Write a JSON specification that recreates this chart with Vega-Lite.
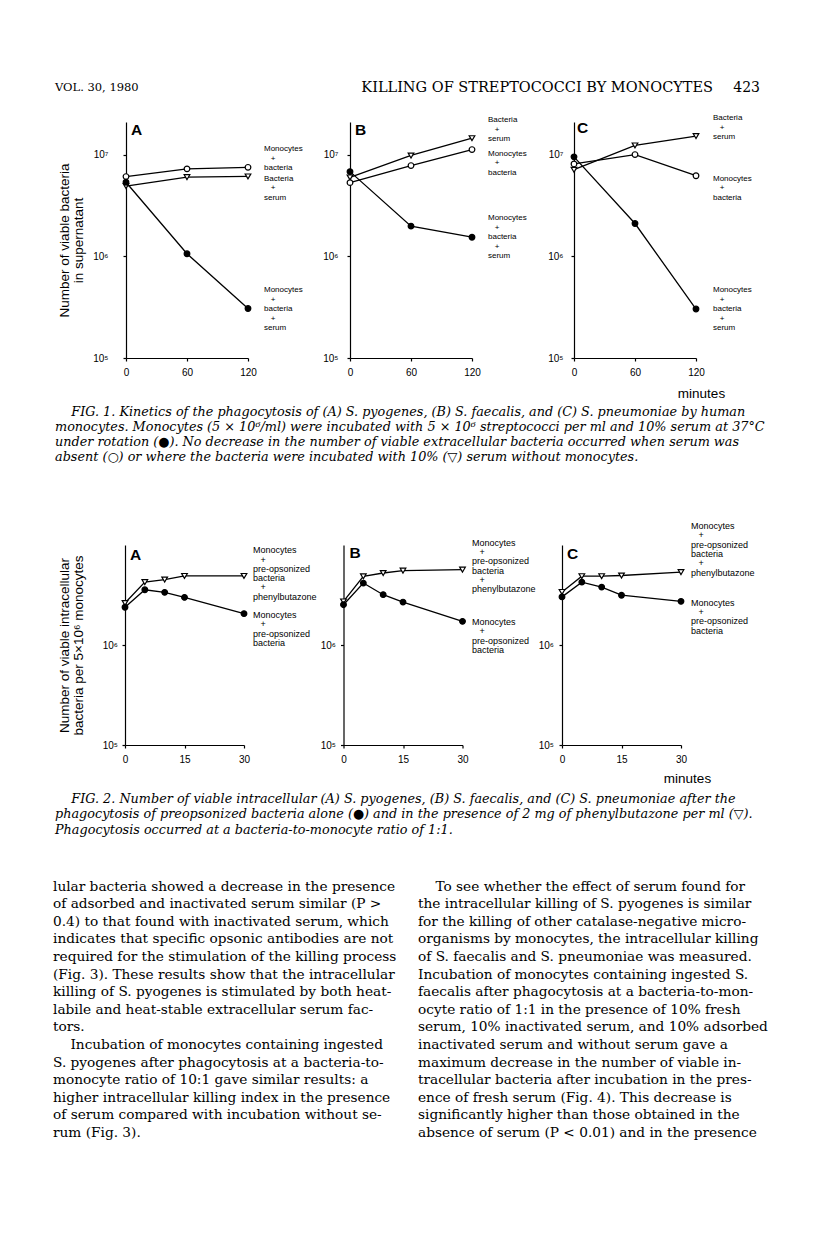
{
  "$schema": "https://vega.github.io/schema/vega-lite/v6.json",
  "background": "white",
  "padding": {"left": 53, "top": 80, "right": 10, "bottom": 10},
  "bounds": "full",
  "spacing": 0,
  "datasets": {
    "header": [
      {"col": 0, "part": "left", "text": "VOL. 30, 1980"},
      {"col": 1, "part": "title", "text": "KILLING OF STREPTOCOCCI BY MONOCYTES"},
      {"col": 1, "part": "page", "text": "423"}
    ],
    "fig1": [
      {"panel": "A", "series": "Monocytes + bacteria", "t": 0, "v": 6080000},
      {"panel": "A", "series": "Monocytes + bacteria", "t": 60, "v": 7240000},
      {"panel": "A", "series": "Monocytes + bacteria", "t": 120, "v": 7500000},
      {"panel": "A", "series": "Bacteria + serum", "t": 0, "v": 4900000},
      {"panel": "A", "series": "Bacteria + serum", "t": 60, "v": 6000000},
      {"panel": "A", "series": "Bacteria + serum", "t": 120, "v": 6100000},
      {"panel": "A", "series": "Monocytes + bacteria + serum", "t": 0, "v": 5350000},
      {"panel": "A", "series": "Monocytes + bacteria + serum", "t": 60, "v": 1060000},
      {"panel": "A", "series": "Monocytes + bacteria + serum", "t": 120, "v": 307000},
      {"panel": "B", "series": "Bacteria + serum", "t": 0, "v": 5960000},
      {"panel": "B", "series": "Bacteria + serum", "t": 60, "v": 9800000},
      {"panel": "B", "series": "Bacteria + serum", "t": 120, "v": 14500000},
      {"panel": "B", "series": "Monocytes + bacteria", "t": 0, "v": 5300000},
      {"panel": "B", "series": "Monocytes + bacteria", "t": 60, "v": 7800000},
      {"panel": "B", "series": "Monocytes + bacteria", "t": 120, "v": 11200000},
      {"panel": "B", "series": "Monocytes + bacteria + serum", "t": 0, "v": 6800000},
      {"panel": "B", "series": "Monocytes + bacteria + serum", "t": 60, "v": 1980000},
      {"panel": "B", "series": "Monocytes + bacteria + serum", "t": 120, "v": 1540000},
      {"panel": "C", "series": "Bacteria + serum", "t": 0, "v": 7100000},
      {"panel": "C", "series": "Bacteria + serum", "t": 60, "v": 12300000},
      {"panel": "C", "series": "Bacteria + serum", "t": 120, "v": 15200000},
      {"panel": "C", "series": "Monocytes + bacteria", "t": 0, "v": 8100000},
      {"panel": "C", "series": "Monocytes + bacteria", "t": 60, "v": 10000000},
      {"panel": "C", "series": "Monocytes + bacteria", "t": 120, "v": 6200000},
      {"panel": "C", "series": "Monocytes + bacteria + serum", "t": 0, "v": 9500000},
      {"panel": "C", "series": "Monocytes + bacteria + serum", "t": 60, "v": 2100000},
      {"panel": "C", "series": "Monocytes + bacteria + serum", "t": 120, "v": 303000}
    ],
    "fig2": [
      {"panel": "A", "series": "Monocytes + pre-opsonized bacteria + phenylbutazone", "t": 0, "v": 2670000},
      {"panel": "A", "series": "Monocytes + pre-opsonized bacteria + phenylbutazone", "t": 5, "v": 4330000},
      {"panel": "A", "series": "Monocytes + pre-opsonized bacteria + phenylbutazone", "t": 10, "v": 4600000},
      {"panel": "A", "series": "Monocytes + pre-opsonized bacteria + phenylbutazone", "t": 15, "v": 5000000},
      {"panel": "A", "series": "Monocytes + pre-opsonized bacteria + phenylbutazone", "t": 30, "v": 5000000},
      {"panel": "A", "series": "Monocytes + pre-opsonized bacteria", "t": 0, "v": 2420000},
      {"panel": "A", "series": "Monocytes + pre-opsonized bacteria", "t": 5, "v": 3630000},
      {"panel": "A", "series": "Monocytes + pre-opsonized bacteria", "t": 10, "v": 3420000},
      {"panel": "A", "series": "Monocytes + pre-opsonized bacteria", "t": 15, "v": 3040000},
      {"panel": "A", "series": "Monocytes + pre-opsonized bacteria", "t": 30, "v": 2090000},
      {"panel": "B", "series": "Monocytes + pre-opsonized bacteria + phenylbutazone", "t": 0, "v": 2770000},
      {"panel": "B", "series": "Monocytes + pre-opsonized bacteria + phenylbutazone", "t": 5, "v": 4950000},
      {"panel": "B", "series": "Monocytes + pre-opsonized bacteria + phenylbutazone", "t": 10, "v": 5350000},
      {"panel": "B", "series": "Monocytes + pre-opsonized bacteria + phenylbutazone", "t": 15, "v": 5650000},
      {"panel": "B", "series": "Monocytes + pre-opsonized bacteria + phenylbutazone", "t": 30, "v": 5780000},
      {"panel": "B", "series": "Monocytes + pre-opsonized bacteria", "t": 0, "v": 2570000},
      {"panel": "B", "series": "Monocytes + pre-opsonized bacteria", "t": 5, "v": 4240000},
      {"panel": "B", "series": "Monocytes + pre-opsonized bacteria", "t": 10, "v": 3240000},
      {"panel": "B", "series": "Monocytes + pre-opsonized bacteria", "t": 15, "v": 2730000},
      {"panel": "B", "series": "Monocytes + pre-opsonized bacteria", "t": 30, "v": 1750000},
      {"panel": "C", "series": "Monocytes + pre-opsonized bacteria + phenylbutazone", "t": 0, "v": 3450000},
      {"panel": "C", "series": "Monocytes + pre-opsonized bacteria + phenylbutazone", "t": 5, "v": 4970000},
      {"panel": "C", "series": "Monocytes + pre-opsonized bacteria + phenylbutazone", "t": 10, "v": 4970000},
      {"panel": "C", "series": "Monocytes + pre-opsonized bacteria + phenylbutazone", "t": 15, "v": 5050000},
      {"panel": "C", "series": "Monocytes + pre-opsonized bacteria + phenylbutazone", "t": 30, "v": 5460000},
      {"panel": "C", "series": "Monocytes + pre-opsonized bacteria", "t": 0, "v": 3080000},
      {"panel": "C", "series": "Monocytes + pre-opsonized bacteria", "t": 5, "v": 4330000},
      {"panel": "C", "series": "Monocytes + pre-opsonized bacteria", "t": 10, "v": 3860000},
      {"panel": "C", "series": "Monocytes + pre-opsonized bacteria", "t": 15, "v": 3200000},
      {"panel": "C", "series": "Monocytes + pre-opsonized bacteria", "t": 30, "v": 2780000}
    ],
    "lab1": [
      {"panel": "A", "t": 120, "v": 12300000, "text": "Monocytes\n\u200b\u00a0\u00a0\u00a0+\nbacteria"},
      {"panel": "A", "t": 120, "v": 6370000, "text": "Bacteria\n\u200b\u00a0\u00a0\u00a0+\nserum"},
      {"panel": "A", "t": 120, "v": 505000, "text": "Monocytes\n\u200b\u00a0\u00a0\u00a0+\nbacteria\n\u200b\u00a0\u00a0\u00a0+\nserum"},
      {"panel": "B", "t": 120, "v": 23700000, "text": "Bacteria\n\u200b\u00a0\u00a0\u00a0+\nserum"},
      {"panel": "B", "t": 120, "v": 11200000, "text": "Monocytes\n\u200b\u00a0\u00a0\u00a0+\nbacteria"},
      {"panel": "B", "t": 120, "v": 2580000, "text": "Monocytes\n\u200b\u00a0\u00a0\u00a0+\nbacteria\n\u200b\u00a0\u00a0\u00a0+\nserum"},
      {"panel": "C", "t": 120, "v": 24800000, "text": "Bacteria\n\u200b\u00a0\u00a0\u00a0+\nserum"},
      {"panel": "C", "t": 120, "v": 6370000, "text": "Monocytes\n\u200b\u00a0\u00a0\u00a0+\nbacteria"},
      {"panel": "C", "t": 120, "v": 505000, "text": "Monocytes\n\u200b\u00a0\u00a0\u00a0+\nbacteria\n\u200b\u00a0\u00a0\u00a0+\nserum"}
    ],
    "lab2": [
      {"panel": "A", "t": 30, "v": 9930000, "text": "Monocytes\n\u200b\u00a0\u00a0\u00a0+\npre-opsonized\nbacteria\n\u200b\u00a0\u00a0\u00a0+\nphenylbutazone"},
      {"panel": "A", "t": 30, "v": 2220000, "text": "Monocytes\n\u200b\u00a0\u00a0\u00a0+\npre-opsonized\nbacteria"},
      {"panel": "B", "t": 30, "v": 11800000, "text": "Monocytes\n\u200b\u00a0\u00a0\u00a0+\npre-opsonized\nbacteria\n\u200b\u00a0\u00a0\u00a0+\nphenylbutazone"},
      {"panel": "B", "t": 30, "v": 1890000, "text": "Monocytes\n\u200b\u00a0\u00a0\u00a0+\npre-opsonized\nbacteria"},
      {"panel": "C", "t": 30, "v": 17400000, "text": "Monocytes\n\u200b\u00a0\u00a0\u00a0+\npre-opsonized\nbacteria\n\u200b\u00a0\u00a0\u00a0+\nphenylbutazone"},
      {"panel": "C", "t": 30, "v": 2950000, "text": "Monocytes\n\u200b\u00a0\u00a0\u00a0+\npre-opsonized\nbacteria"}
    ],
    "letters": [
      {"fig": 1, "panel": "A", "t": 0, "v": 20920000, "text": "A"},
      {"fig": 1, "panel": "B", "t": 0, "v": 20920000, "text": "B"},
      {"fig": 1, "panel": "C", "t": 0, "v": 20920000, "text": "C"},
      {"fig": 2, "panel": "A", "t": 0, "v": 10230000, "text": "A"},
      {"fig": 2, "panel": "B", "t": 0, "v": 10230000, "text": "B"},
      {"fig": 2, "panel": "C", "t": 0, "v": 10230000, "text": "C"}
    ],
    "cap1": [
      {"col": 0, "line": 1, "text": "\u200b\u00a0\u00a0\u00a0\u00a0FIG. 1. Kinetics of the phagocytosis of (A) S. pyogenes, (B) S. faecalis, and (C) S. pneumoniae by human"},
      {"col": 0, "line": 2, "text": "monocytes. Monocytes (5 × 10⁶/ml) were incubated with 5 × 10⁶ streptococci per ml and 10% serum at 37°C"},
      {"col": 0, "line": 3, "text": "under rotation (●). No decrease in the number of viable extracellular bacteria occurred when serum was"},
      {"col": 0, "line": 4, "text": "absent (○) or where the bacteria were incubated with 10% (▽) serum without monocytes."}
    ],
    "cap2": [
      {"col": 0, "line": 1, "text": "\u200b\u00a0\u00a0\u00a0\u00a0FIG. 2. Number of viable intracellular (A) S. pyogenes, (B) S. faecalis, and (C) S. pneumoniae after the"},
      {"col": 0, "line": 2, "text": "phagocytosis of preopsonized bacteria alone (●) and in the presence of 2 mg of phenylbutazone per ml (▽)."},
      {"col": 0, "line": 3, "text": "Phagocytosis occurred at a bacteria-to-monocyte ratio of 1:1."}
    ],
    "body": [
      {"col": 0, "line": 1, "text": "lular bacteria showed a decrease in the presence"},
      {"col": 0, "line": 2, "text": "of adsorbed and inactivated serum similar (P >"},
      {"col": 0, "line": 3, "text": "0.4) to that found with inactivated serum, which"},
      {"col": 0, "line": 4, "text": "indicates that specific opsonic antibodies are not"},
      {"col": 0, "line": 5, "text": "required for the stimulation of the killing process"},
      {"col": 0, "line": 6, "text": "(Fig. 3). These results show that the intracellular"},
      {"col": 0, "line": 7, "text": "killing of S. pyogenes is stimulated by both heat-"},
      {"col": 0, "line": 8, "text": "labile and heat-stable extracellular serum fac-"},
      {"col": 0, "line": 9, "text": "tors."},
      {"col": 0, "line": 10, "text": "\u200b\u00a0\u00a0\u00a0\u00a0Incubation of monocytes containing ingested"},
      {"col": 0, "line": 11, "text": "S. pyogenes after phagocytosis at a bacteria-to-"},
      {"col": 0, "line": 12, "text": "monocyte ratio of 10:1 gave similar results: a"},
      {"col": 0, "line": 13, "text": "higher intracellular killing index in the presence"},
      {"col": 0, "line": 14, "text": "of serum compared with incubation without se-"},
      {"col": 0, "line": 15, "text": "rum (Fig. 3)."},
      {"col": 1, "line": 1, "text": "\u200b\u00a0\u00a0\u00a0\u00a0To see whether the effect of serum found for"},
      {"col": 1, "line": 2, "text": "the intracellular killing of S. pyogenes is similar"},
      {"col": 1, "line": 3, "text": "for the killing of other catalase-negative micro-"},
      {"col": 1, "line": 4, "text": "organisms by monocytes, the intracellular killing"},
      {"col": 1, "line": 5, "text": "of S. faecalis and S. pneumoniae was measured."},
      {"col": 1, "line": 6, "text": "Incubation of monocytes containing ingested S."},
      {"col": 1, "line": 7, "text": "faecalis after phagocytosis at a bacteria-to-mon-"},
      {"col": 1, "line": 8, "text": "ocyte ratio of 1:1 in the presence of 10% fresh"},
      {"col": 1, "line": 9, "text": "serum, 10% inactivated serum, and 10% adsorbed"},
      {"col": 1, "line": 10, "text": "inactivated serum and without serum gave a"},
      {"col": 1, "line": 11, "text": "maximum decrease in the number of viable in-"},
      {"col": 1, "line": 12, "text": "tracellular bacteria after incubation in the pres-"},
      {"col": 1, "line": 13, "text": "ence of fresh serum (Fig. 4). This decrease is"},
      {"col": 1, "line": 14, "text": "significantly higher than those obtained in the"},
      {"col": 1, "line": 15, "text": "absence of serum (P < 0.01) and in the presence"}
    ]
  },
  "vconcat": [
    {
      "width": 707,
      "height": 33.4,
      "data": {"name": "header"},
      "encoding": {
        "x": {"field": "col", "type": "quantitative", "scale": {"domain": [0, 1], "nice": false, "zero": false}, "axis": null},
        "text": {"field": "text"}
      },
      "layer": [
        {"transform": [{"filter": "datum.part === 'left'"}], "mark": {"type": "text", "align": "left", "baseline": "middle", "dx": 2, "dy": -8.7, "font": "DejaVu Serif", "fontSize": 11.5}},
        {"transform": [{"filter": "datum.part === 'title'"}], "mark": {"type": "text", "align": "right", "baseline": "middle", "dx": -47, "dy": -8.7, "font": "DejaVu Serif", "fontSize": 14.5}},
        {"transform": [{"filter": "datum.part === 'page'"}], "mark": {"type": "text", "align": "right", "baseline": "middle", "dx": 0, "dy": -8.7, "font": "DejaVu Serif", "fontSize": 14}}
      ]
    },
    {
      "bounds": "flush",
      "spacing": 0,
      "hconcat": [
        {"width": 73, "height": 10, "data": {"values": []}, "mark": "text", "encoding": {}},
        {
          "bounds": "flush",
          "spacing": 102,
          "hconcat": [
            {
              "width": 122,
              "height": 236,
              "encoding": {
                "x": {"field": "t", "type": "quantitative", "scale": {"domain": [0, 120], "nice": false, "zero": false}, "axis": {"values": [0, 60, 120], "title": null}},
                "y": {"field": "v", "type": "quantitative", "scale": {"type": "log", "domain": [100000, 20920000], "nice": false}, "axis": {"values": [100000, 1000000, 10000000], "labelExpr": "datum.value > 5000000 ? '10⁷' : datum.value > 500000 ? '10⁶' : '10⁵'", "labelPadding": 15, "title": ["Number of viable bacteria", "in supernatant"], "titlePadding": 7}}
              },
              "layer": [
                {"data": {"name": "fig1"}, "transform": [{"filter": "datum.panel === 'A'"}], "mark": {"type": "line", "color": "black", "strokeWidth": 1.3}, "encoding": {"detail": {"field": "series"}}},
                {"data": {"name": "fig1"}, "transform": [{"filter": "datum.panel === 'A'"}], "mark": {"type": "point", "filled": true, "stroke": "black", "strokeWidth": 1.2, "size": 32, "opacity": 1},
                 "encoding": {
                   "shape": {"field": "series", "type": "nominal", "scale": {"domain": ["Monocytes + bacteria + serum", "Monocytes + bacteria", "Bacteria + serum", "Monocytes + pre-opsonized bacteria", "Monocytes + pre-opsonized bacteria + phenylbutazone"], "range": ["circle", "circle", "triangle-down", "circle", "triangle-down"]}, "legend": null},
                   "fill": {"field": "series", "type": "nominal", "scale": {"domain": ["Monocytes + bacteria + serum", "Monocytes + bacteria", "Bacteria + serum", "Monocytes + pre-opsonized bacteria", "Monocytes + pre-opsonized bacteria + phenylbutazone"], "range": ["black", "white", "white", "black", "white"]}, "legend": null}
                 }},
                {"data": {"name": "lab1"}, "transform": [{"filter": "datum.panel === 'A'"}], "mark": {"type": "text", "align": "left", "baseline": "top", "dx": 16, "font": "Liberation Sans", "fontSize": 8, "lineHeight": 9.5, "lineBreak": "\n"}, "encoding": {"text": {"field": "text"}}},
                {"data": {"name": "letters"}, "transform": [{"filter": "datum.fig === 1 && datum.panel === 'A'"}], "mark": {"type": "text", "align": "left", "baseline": "top", "dx": 5, "dy": 1, "font": "Liberation Sans", "fontSize": 15.5, "fontWeight": "bold"}, "encoding": {"text": {"field": "text"}}}
              ]
            },
            {
              "width": 122,
              "height": 236,
              "encoding": {
                "x": {"field": "t", "type": "quantitative", "scale": {"domain": [0, 120], "nice": false, "zero": false}, "axis": {"values": [0, 60, 120], "title": null}},
                "y": {"field": "v", "type": "quantitative", "scale": {"type": "log", "domain": [100000, 20920000], "nice": false}, "axis": {"values": [100000, 1000000, 10000000], "labelExpr": "datum.value > 5000000 ? '10⁷' : datum.value > 500000 ? '10⁶' : '10⁵'", "labelPadding": 9, "title": null}}
              },
              "layer": [
                {"data": {"name": "fig1"}, "transform": [{"filter": "datum.panel === 'B'"}], "mark": {"type": "line", "color": "black", "strokeWidth": 1.3}, "encoding": {"detail": {"field": "series"}}},
                {"data": {"name": "fig1"}, "transform": [{"filter": "datum.panel === 'B'"}], "mark": {"type": "point", "filled": true, "stroke": "black", "strokeWidth": 1.2, "size": 32, "opacity": 1},
                 "encoding": {
                   "shape": {"field": "series", "type": "nominal", "scale": {"domain": ["Monocytes + bacteria + serum", "Monocytes + bacteria", "Bacteria + serum", "Monocytes + pre-opsonized bacteria", "Monocytes + pre-opsonized bacteria + phenylbutazone"], "range": ["circle", "circle", "triangle-down", "circle", "triangle-down"]}, "legend": null},
                   "fill": {"field": "series", "type": "nominal", "scale": {"domain": ["Monocytes + bacteria + serum", "Monocytes + bacteria", "Bacteria + serum", "Monocytes + pre-opsonized bacteria", "Monocytes + pre-opsonized bacteria + phenylbutazone"], "range": ["black", "white", "white", "black", "white"]}, "legend": null}
                 }},
                {"data": {"name": "lab1"}, "transform": [{"filter": "datum.panel === 'B'"}], "mark": {"type": "text", "align": "left", "baseline": "top", "dx": 16, "font": "Liberation Sans", "fontSize": 8, "lineHeight": 9.5, "lineBreak": "\n"}, "encoding": {"text": {"field": "text"}}},
                {"data": {"name": "letters"}, "transform": [{"filter": "datum.fig === 1 && datum.panel === 'B'"}], "mark": {"type": "text", "align": "left", "baseline": "top", "dx": 5, "dy": 1, "font": "Liberation Sans", "fontSize": 15.5, "fontWeight": "bold"}, "encoding": {"text": {"field": "text"}}}
              ]
            },
            {
              "width": 122,
              "height": 236,
              "encoding": {
                "x": {"field": "t", "type": "quantitative", "scale": {"domain": [0, 120], "nice": false, "zero": false}, "axis": {"values": [0, 60, 120], "title": "minutes", "titleX": 127, "titleY": 35, "titleAlign": "center", "titleBaseline": "middle"}},
                "y": {"field": "v", "type": "quantitative", "scale": {"type": "log", "domain": [100000, 20920000], "nice": false}, "axis": {"values": [100000, 1000000, 10000000], "labelExpr": "datum.value > 5000000 ? '10⁷' : datum.value > 500000 ? '10⁶' : '10⁵'", "labelPadding": 8, "title": null}}
              },
              "layer": [
                {"data": {"name": "fig1"}, "transform": [{"filter": "datum.panel === 'C'"}], "mark": {"type": "line", "color": "black", "strokeWidth": 1.3}, "encoding": {"detail": {"field": "series"}}},
                {"data": {"name": "fig1"}, "transform": [{"filter": "datum.panel === 'C'"}], "mark": {"type": "point", "filled": true, "stroke": "black", "strokeWidth": 1.2, "size": 32, "opacity": 1},
                 "encoding": {
                   "shape": {"field": "series", "type": "nominal", "scale": {"domain": ["Monocytes + bacteria + serum", "Monocytes + bacteria", "Bacteria + serum", "Monocytes + pre-opsonized bacteria", "Monocytes + pre-opsonized bacteria + phenylbutazone"], "range": ["circle", "circle", "triangle-down", "circle", "triangle-down"]}, "legend": null},
                   "fill": {"field": "series", "type": "nominal", "scale": {"domain": ["Monocytes + bacteria + serum", "Monocytes + bacteria", "Bacteria + serum", "Monocytes + pre-opsonized bacteria", "Monocytes + pre-opsonized bacteria + phenylbutazone"], "range": ["black", "white", "white", "black", "white"]}, "legend": null}
                 }},
                {"data": {"name": "lab1"}, "transform": [{"filter": "datum.panel === 'C'"}], "mark": {"type": "text", "align": "left", "baseline": "top", "dx": 17, "font": "Liberation Sans", "fontSize": 8, "lineHeight": 9.5, "lineBreak": "\n"}, "encoding": {"text": {"field": "text"}}},
                {"data": {"name": "letters"}, "transform": [{"filter": "datum.fig === 1 && datum.panel === 'C'"}], "mark": {"type": "text", "align": "left", "baseline": "top", "dx": 3, "dy": -1, "font": "Liberation Sans", "fontSize": 15.5, "fontWeight": "bold"}, "encoding": {"text": {"field": "text"}}}
              ]
            }
          ]
        }
      ]
    },
    {
      "width": 707,
      "height": 121.65,
      "data": {"name": "cap1"},
      "mark": {"type": "text", "align": "left", "baseline": "middle", "dx": 2, "font": "DejaVu Serif", "fontStyle": "italic", "fontSize": 12.8},
      "encoding": {
        "x": {"field": "col", "type": "quantitative", "scale": {"domain": [0, 1], "nice": false, "zero": false}, "axis": null},
        "y": {"field": "line", "type": "quantitative", "scale": {"domain": [0.1833, 8.293], "nice": false, "zero": false, "reverse": true}, "axis": null},
        "text": {"field": "text"}
      }
    },
    {
      "bounds": "flush",
      "spacing": 0,
      "hconcat": [
        {"width": 72, "height": 10, "data": {"values": []}, "mark": "text", "encoding": {}},
        {
          "bounds": "flush",
          "spacing": 99.5,
          "hconcat": [
            {
              "width": 119,
              "height": 200,
              "encoding": {
                "x": {"field": "t", "type": "quantitative", "scale": {"domain": [0, 30], "nice": false, "zero": false}, "axis": {"values": [0, 15, 30], "title": null}},
                "y": {"field": "v", "type": "quantitative", "scale": {"type": "log", "domain": [100000, 10230000], "nice": false}, "axis": {"values": [100000, 1000000], "labelExpr": "datum.value > 500000 ? '10⁶' : '10⁵'", "labelPadding": 4.5, "title": ["Number of viable intracellular", "bacteria per 5×10⁶ monocytes"], "titlePadding": 17}}
              },
              "layer": [
                {"data": {"name": "fig2"}, "transform": [{"filter": "datum.panel === 'A'"}], "mark": {"type": "line", "color": "black", "strokeWidth": 1.3}, "encoding": {"detail": {"field": "series"}}},
                {"data": {"name": "fig2"}, "transform": [{"filter": "datum.panel === 'A'"}], "mark": {"type": "point", "filled": true, "stroke": "black", "strokeWidth": 1.2, "size": 32, "opacity": 1},
                 "encoding": {
                   "shape": {"field": "series", "type": "nominal", "scale": {"domain": ["Monocytes + bacteria + serum", "Monocytes + bacteria", "Bacteria + serum", "Monocytes + pre-opsonized bacteria", "Monocytes + pre-opsonized bacteria + phenylbutazone"], "range": ["circle", "circle", "triangle-down", "circle", "triangle-down"]}, "legend": null},
                   "fill": {"field": "series", "type": "nominal", "scale": {"domain": ["Monocytes + bacteria + serum", "Monocytes + bacteria", "Bacteria + serum", "Monocytes + pre-opsonized bacteria", "Monocytes + pre-opsonized bacteria + phenylbutazone"], "range": ["black", "white", "white", "black", "white"]}, "legend": null}
                 }},
                {"data": {"name": "lab2"}, "transform": [{"filter": "datum.panel === 'A'"}], "mark": {"type": "text", "align": "left", "baseline": "top", "dx": 9, "font": "Liberation Sans", "fontSize": 9, "lineHeight": 9.3, "lineBreak": "\n"}, "encoding": {"text": {"field": "text"}}},
                {"data": {"name": "letters"}, "transform": [{"filter": "datum.fig === 2 && datum.panel === 'A'"}], "mark": {"type": "text", "align": "left", "baseline": "top", "dx": 5, "dy": 3, "font": "Liberation Sans", "fontSize": 15.5, "fontWeight": "bold"}, "encoding": {"text": {"field": "text"}}}
              ]
            },
            {
              "width": 119,
              "height": 200,
              "encoding": {
                "x": {"field": "t", "type": "quantitative", "scale": {"domain": [0, 30], "nice": false, "zero": false}, "axis": {"values": [0, 15, 30], "title": null}},
                "y": {"field": "v", "type": "quantitative", "scale": {"type": "log", "domain": [100000, 10230000], "nice": false}, "axis": {"values": [100000, 1000000], "labelExpr": "datum.value > 500000 ? '10⁶' : '10⁵'", "labelPadding": 5, "title": null}}
              },
              "layer": [
                {"data": {"name": "fig2"}, "transform": [{"filter": "datum.panel === 'B'"}], "mark": {"type": "line", "color": "black", "strokeWidth": 1.3}, "encoding": {"detail": {"field": "series"}}},
                {"data": {"name": "fig2"}, "transform": [{"filter": "datum.panel === 'B'"}], "mark": {"type": "point", "filled": true, "stroke": "black", "strokeWidth": 1.2, "size": 32, "opacity": 1},
                 "encoding": {
                   "shape": {"field": "series", "type": "nominal", "scale": {"domain": ["Monocytes + bacteria + serum", "Monocytes + bacteria", "Bacteria + serum", "Monocytes + pre-opsonized bacteria", "Monocytes + pre-opsonized bacteria + phenylbutazone"], "range": ["circle", "circle", "triangle-down", "circle", "triangle-down"]}, "legend": null},
                   "fill": {"field": "series", "type": "nominal", "scale": {"domain": ["Monocytes + bacteria + serum", "Monocytes + bacteria", "Bacteria + serum", "Monocytes + pre-opsonized bacteria", "Monocytes + pre-opsonized bacteria + phenylbutazone"], "range": ["black", "white", "white", "black", "white"]}, "legend": null}
                 }},
                {"data": {"name": "lab2"}, "transform": [{"filter": "datum.panel === 'B'"}], "mark": {"type": "text", "align": "left", "baseline": "top", "dx": 9.5, "font": "Liberation Sans", "fontSize": 9, "lineHeight": 9.3, "lineBreak": "\n"}, "encoding": {"text": {"field": "text"}}},
                {"data": {"name": "letters"}, "transform": [{"filter": "datum.fig === 2 && datum.panel === 'B'"}], "mark": {"type": "text", "align": "left", "baseline": "top", "dx": 6, "dy": 1, "font": "Liberation Sans", "fontSize": 15.5, "fontWeight": "bold"}, "encoding": {"text": {"field": "text"}}}
              ]
            },
            {
              "width": 119,
              "height": 200,
              "encoding": {
                "x": {"field": "t", "type": "quantitative", "scale": {"domain": [0, 30], "nice": false, "zero": false}, "axis": {"values": [0, 15, 30], "title": "minutes", "titleX": 125, "titleY": 33, "titleAlign": "center", "titleBaseline": "middle"}},
                "y": {"field": "v", "type": "quantitative", "scale": {"type": "log", "domain": [100000, 10230000], "nice": false}, "axis": {"values": [100000, 1000000], "labelExpr": "datum.value > 500000 ? '10⁶' : '10⁵'", "labelPadding": 5.5, "title": null}}
              },
              "layer": [
                {"data": {"name": "fig2"}, "transform": [{"filter": "datum.panel === 'C'"}], "mark": {"type": "line", "color": "black", "strokeWidth": 1.3}, "encoding": {"detail": {"field": "series"}}},
                {"data": {"name": "fig2"}, "transform": [{"filter": "datum.panel === 'C'"}], "mark": {"type": "point", "filled": true, "stroke": "black", "strokeWidth": 1.2, "size": 32, "opacity": 1},
                 "encoding": {
                   "shape": {"field": "series", "type": "nominal", "scale": {"domain": ["Monocytes + bacteria + serum", "Monocytes + bacteria", "Bacteria + serum", "Monocytes + pre-opsonized bacteria", "Monocytes + pre-opsonized bacteria + phenylbutazone"], "range": ["circle", "circle", "triangle-down", "circle", "triangle-down"]}, "legend": null},
                   "fill": {"field": "series", "type": "nominal", "scale": {"domain": ["Monocytes + bacteria + serum", "Monocytes + bacteria", "Bacteria + serum", "Monocytes + pre-opsonized bacteria", "Monocytes + pre-opsonized bacteria + phenylbutazone"], "range": ["black", "white", "white", "black", "white"]}, "legend": null}
                 }},
                {"data": {"name": "lab2"}, "transform": [{"filter": "datum.panel === 'C'"}], "mark": {"type": "text", "align": "left", "baseline": "top", "dx": 10, "font": "Liberation Sans", "fontSize": 9, "lineHeight": 9.3, "lineBreak": "\n"}, "encoding": {"text": {"field": "text"}}},
                {"data": {"name": "letters"}, "transform": [{"filter": "datum.fig === 2 && datum.panel === 'C'"}], "mark": {"type": "text", "align": "left", "baseline": "top", "dx": 5, "dy": 2, "font": "Liberation Sans", "fontSize": 15.5, "fontWeight": "bold"}, "encoding": {"text": {"field": "text"}}}
              ]
            }
          ]
        }
      ]
    },
    {
      "width": 707,
      "height": 86.75,
      "data": {"name": "cap2"},
      "mark": {"type": "text", "align": "left", "baseline": "middle", "dx": 2, "font": "DejaVu Serif", "fontStyle": "italic", "fontSize": 12.8},
      "encoding": {
        "x": {"field": "col", "type": "quantitative", "scale": {"domain": [0, 1], "nice": false, "zero": false}, "axis": null},
        "y": {"field": "line", "type": "quantitative", "scale": {"domain": [0.1129, 5.710], "nice": false, "zero": false, "reverse": true}, "axis": null},
        "text": {"field": "text"}
      }
    },
    {
      "width": 365,
      "height": 270,
      "data": {"name": "body"},
      "mark": {"type": "text", "align": "left", "baseline": "middle", "font": "DejaVu Serif", "fontSize": 13.7},
      "encoding": {
        "x": {"field": "col", "type": "quantitative", "scale": {"domain": [0, 1], "nice": false, "zero": false}, "axis": null},
        "y": {"field": "line", "type": "quantitative", "scale": {"domain": [0.176, 15.517], "nice": false, "zero": false, "reverse": true}, "axis": null},
        "text": {"field": "text"}
      }
    }
  ],
  "config": {
    "view": {"stroke": null},
    "mark": {"color": "black"},
    "text": {"color": "black"},
    "axis": {
      "grid": false,
      "domainColor": "black",
      "domainWidth": 1.2,
      "tickColor": "black",
      "tickWidth": 1.2,
      "tickSize": 3,
      "labelColor": "black",
      "labelFont": "Liberation Sans",
      "labelFontSize": 10,
      "labelFlush": false,
      "labelOverlap": false,
      "labelPadding": 6,
      "titleColor": "black",
      "titleFont": "Liberation Sans",
      "titleFontSize": 13.5,
      "titleFontWeight": "normal",
      "titleLineHeight": 14
    }
  }
}
